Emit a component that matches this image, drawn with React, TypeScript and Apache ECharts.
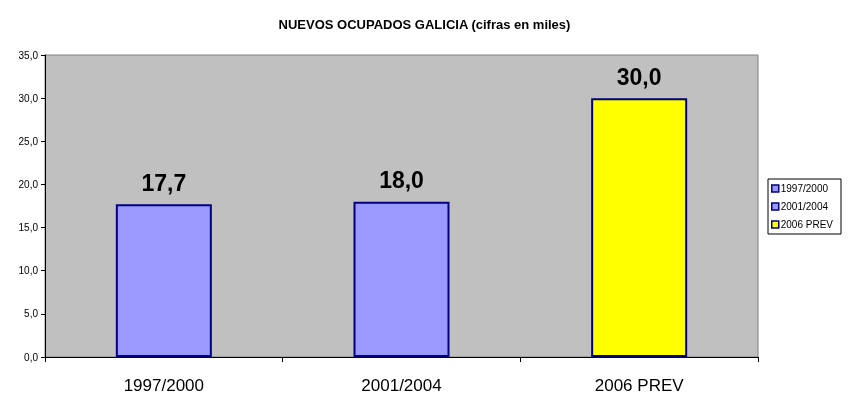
import React, { useEffect, useRef } from "react";
import * as echarts from "echarts";

const categories = ["1997/2000", "2001/2004", "2006 PREV"];
const values = [17.7, 18.0, 30.0];
const fills = ["#9999FF", "#9999FF", "#FFFF00"];
const yTicks = [0, 5, 10, 15, 20, 25, 30, 35];
const title = "NUEVOS OCUPADOS GALICIA (cifras en miles)";

const fmt = (v: number) => v.toFixed(1).replace(".", ",");
const FONT = "Arial, Liberation Sans, sans-serif";

export default function App() {
  const ref = useRef<HTMLDivElement>(null);
  useEffect(() => {
    if (!ref.current) return;
    const chart = echarts.init(ref.current, null, { renderer: "svg" });
    const series = categories.map((name, i) => ({
      name,
      type: "bar",
      data: categories.map((_, j) => (j === i ? values[i] : "-")),
      barWidth: 96,
      barGap: "-100%",
      itemStyle: { color: fills[i], borderColor: "#000080", borderWidth: 2 },
      label: {
        show: true,
        position: "top",
        distance: 10,
        formatter: (p: any) => fmt(p.value),
        fontFamily: FONT,
        fontWeight: "bold",
        fontSize: 23,
        color: "#000",
      },
    }));
    chart.setOption({
      animation: false,
      title: {
        text: title,
        left: "center",
        top: 13,
        textStyle: {
          fontFamily: FONT,
          fontWeight: "bold",
          fontSize: 13,
          color: "#000",
        },
      },
      legend: {
        orient: "vertical",
        left: 768,
        top: 179,
        width: 72,
        padding: [4, 8, 4, 3],
        borderColor: "#000",
        borderWidth: 1,
        itemWidth: 7,
        itemHeight: 7,
        itemGap: 7,
        icon: "rect",
        textStyle: {
          fontFamily: FONT,
          fontSize: 10,
          color: "#000",
          lineHeight: 11,
          padding: [0, 0, 0, -3],
        },
        itemStyle: { borderColor: "#000080", borderWidth: 1.5 },
        data: categories,
      },
      grid: {
        left: 45,
        right: 91,
        top: 55,
        bottom: 44,
        show: true,
        backgroundColor: "#C0C0C0",
        borderColor: "#808080",
        borderWidth: 1,
      },
      xAxis: {
        type: "category",
        data: categories,
        axisLine: { lineStyle: { color: "#000", width: 1 } },
        axisTick: { show: true, length: 5, lineStyle: { color: "#000" } },
        axisLabel: {
          fontFamily: FONT,
          fontSize: 17,
          color: "#000",
          margin: 20,
        },
      },
      yAxis: {
        type: "value",
        min: yTicks[0],
        max: yTicks[yTicks.length - 1],
        interval: 5,
        axisLine: { show: true, lineStyle: { color: "#000", width: 1 } },
        axisTick: { show: true, length: 4, lineStyle: { color: "#000" } },
        splitLine: { show: false },
        axisLabel: {
          formatter: (v: number) => fmt(v),
          fontFamily: FONT,
          fontSize: 10,
          color: "#000",
          margin: 7,
        },
      },
      series,
    });
    return () => chart.dispose();
  }, []);
  return <div ref={ref} style={{ width: 849, height: 401, position: "fixed", left: 0, top: 0 }} />;
}
